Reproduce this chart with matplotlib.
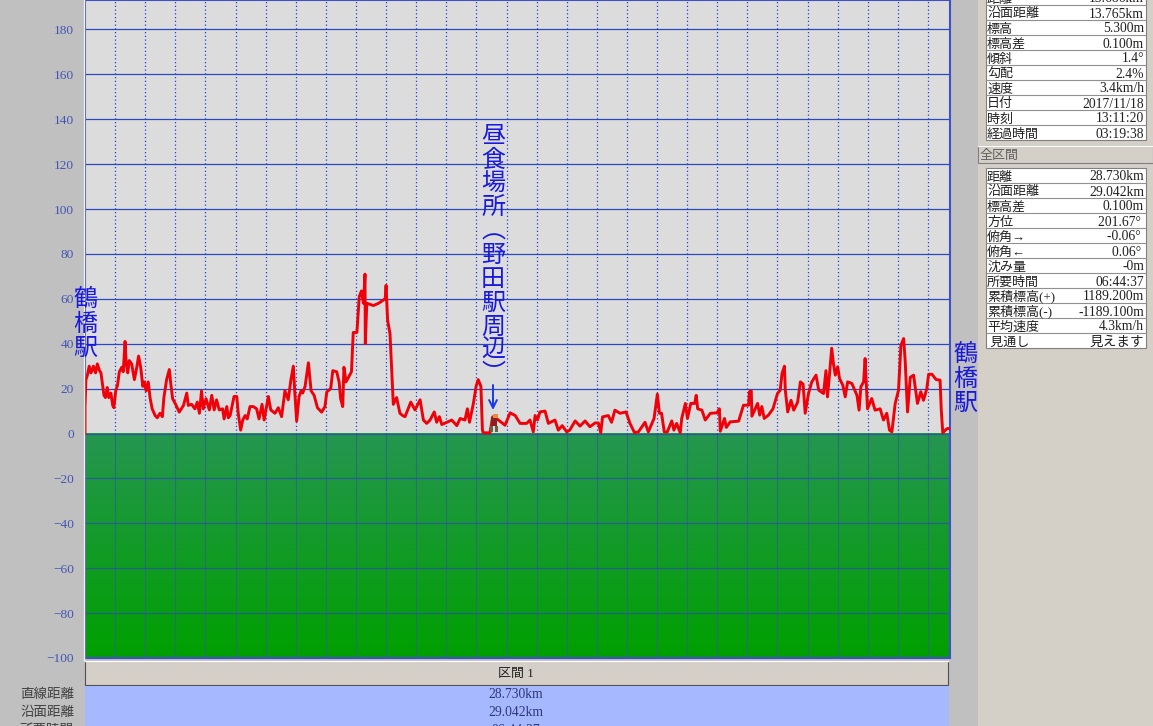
import numpy as np
import matplotlib
matplotlib.use('Agg')
import matplotlib.pyplot as plt
from matplotlib.colors import LinearSegmentedColormap
from matplotlib.patches import Rectangle

UI_FONT = ['Liberation Serif', 'Noto Sans CJK JP', 'DejaVu Sans']
CJK_FONT = ['Noto Sans CJK JP', 'DejaVu Sans']

# elevation profile
dist_km = [
    0, 0.0, 0.03, 0.08, 0.14, 0.2, 0.28, 0.35, 0.41, 0.48, 0.53, 0.59, 0.63, 0.68, 0.74, 0.79, 0.86, 0.92, 0.96,
    1.02, 1.08, 1.14, 1.22, 1.27, 1.33, 1.37, 1.42, 1.47, 1.55, 1.64, 1.72, 1.78, 1.85, 1.92, 1.97, 2.03, 2.1,
    2.16, 2.23, 2.33, 2.4, 2.49, 2.57, 2.62, 2.71, 2.8, 2.86, 2.91, 3.01, 3.13, 3.27, 3.38, 3.43, 3.54, 3.65,
    3.73, 3.8, 3.87, 3.93, 4.02, 4.13, 4.21, 4.29, 4.37, 4.46, 4.57, 4.62, 4.71, 4.76,
    4.82, 4.95, 5.04, 5.09, 5.17, 5.24, 5.32, 5.39, 5.48, 5.59, 5.7, 5.78, 5.88, 5.95, 6.09, 6.17, 6.31, 6.42,
    6.53, 6.64, 6.75, 6.84, 6.92, 6.97, 7.03, 7.11, 7.18, 7.23, 7.31, 7.42, 7.51, 7.61, 7.72, 7.86, 7.97, 8.03,
    8.16, 8.23, 8.36, 8.44, 8.49, 8.56, 8.6, 8.67, 8.85, 8.91, 9.03, 9.11, 9.18, 9.25, 9.3, 9.31, 9.36, 9.58,
    9.75, 9.97, 10.0, 10.05, 10.13, 10.2, 10.24, 10.35, 10.46, 10.55, 10.63, 10.82, 10.96, 11.13, 11.24, 11.35,
    11.46, 11.6, 11.68, 11.77, 11.85, 12.02, 12.18, 12.35, 12.46, 12.62, 12.7, 12.77, 12.9, 12.99, 13.06, 13.15,
    13.2, 13.23, 13.45, 13.54, 13.73, 13.95, 14.12, 14.29, 14.45, 14.67, 14.78, 14.89, 14.95, 15.03, 15.11, 15.28,
    15.39, 15.61, 15.72, 15.85, 16.0, 16.1, 16.28, 16.44, 16.61, 16.77, 16.94, 17.05, 17.13, 17.19, 17.38, 17.49,
    17.6, 17.77, 17.97, 18.1, 18.25, 18.38, 18.6, 18.71, 18.9, 19.01, 19.08, 19.15, 19.24, 19.34, 19.49, 19.56,
    19.65, 19.77, 19.82, 19.94, 20.01, 20.12, 20.25, 20.3, 20.35, 20.49, 20.6, 20.77, 20.99, 21.07, 21.1, 21.24,
    21.3, 21.43, 21.71, 21.87, 22.04, 22.07, 22.13, 22.15, 22.34, 22.41, 22.48, 22.56, 22.7, 22.85, 23.0, 23.09,
    23.15, 23.23, 23.26, 23.34, 23.45, 23.54, 23.67, 23.76, 23.85, 23.92, 24.03, 24.14, 24.28, 24.37, 24.53,
    24.61, 24.66, 24.73, 24.8, 24.86, 24.92, 25.0, 25.06, 25.17, 25.25, 25.33, 25.47, 25.64, 25.71, 25.77, 25.86,
    25.91, 25.99, 26.13, 26.24, 26.41, 26.52, 26.63, 26.72, 26.8, 26.91, 27.02, 27.1, 27.19, 27.24, 27.32, 27.41,
    27.52, 27.65, 27.76, 27.85, 27.96, 28.02, 28.13, 28.27, 28.4, 28.44, 28.49, 28.63, 28.71,
]
elev_m = [
    0, 12, 24, 26, 30, 27, 30, 27, 31, 28, 27, 21, 17, 16, 20.5, 16, 18, 12.5, 11.5,
    19, 21.5, 27.5, 29.5, 27.5, 41, 31, 27, 32.5, 31, 24, 29.5, 34.5, 29.5, 21, 23, 19, 23,
    16, 11, 8, 7, 9, 7.5, 16, 24, 28.5, 21, 15.5, 13, 9.5, 12.5, 18, 12.5, 13, 11,
    14, 9, 19, 11, 15.5, 10.5, 17, 10.5, 15, 10.5, 11, 6.5, 12, 7,
    8, 16.5, 16.5, 9, 1.5, 6, 8, 6.5, 12, 12, 11, 6.5, 13, 6, 16.5, 10.5, 9, 11.5,
    7.5, 19, 15, 24, 30, 18, 5.5, 16.5, 19, 18, 21, 31.5, 19, 17, 11.5, 9.5, 12, 18.5,
    20, 28, 27.5, 23, 15.5, 12, 29.5, 23, 27.5, 45, 45, 61, 63.5, 58, 71, 40, 58, 57,
    58, 60, 66, 50.5, 44.5, 25, 13, 16, 9, 8, 7.5, 14, 10.5, 15, 6, 4.5,
    6, 9.6, 5, 7.5, 4, 5, 6, 3.5, 6.7, 6, 11, 5, 13.4, 21, 24, 21,
    1.5, 0.3, 0.3, 7.4, 6, 3.7, 9.2, 8, 4.5, 4.5, 6, 0.7, 8, 6, 9.6, 10,
    4.5, 6, 1.5, 3.5, 0.7, 1.5, 5.6, 3.3, 5.6, 3, 4.7, 4.7, 0.3, 7.4, 8, 5,
    10.4, 9, 9.6, 4.5, 0.4, 0.7, 5, 0.7, 6.7, 17.5, 9, 9, 0.7, 0.7, 5.6, 1.5,
    4.5, 0.3, 6.7, 13.4, 6.7, 13.4, 13.4, 17, 11, 10.4, 6, 9, 9.2, 11, 1, 6.7,
    2.7, 5.2, 5.5, 12.6, 12.6, 18.6, 19, 7.7, 13.4, 8.2, 12, 6.7, 8.2, 11, 17.8, 19.3,
    26.7, 30, 19.3, 9.6, 14.8, 10.4, 14, 23, 22, 9, 17.8, 23, 26, 19.3, 17.8,
    28, 16.3, 26.7, 38, 31, 26, 29.7, 24.5, 21.5, 16.3, 23, 22.3, 17, 10.4, 20.8, 23,
    33.4, 11, 15.6, 10.4, 11, 6, 9, 1.5, 0.7, 13.4, 19.3, 39.3, 42.3, 32.7, 9.6, 25,
    26, 13.4, 18.6, 14.8, 20, 26.4, 26.4, 24, 23.8, 10.4, 0.3, 2.2, 2.2,
]
km_ticks = list(range(1, 29))
m_ticks = [-100, -80, -60, -40, -20, 0, 20, 40, 60, 80, 100, 120, 140, 160, 180]

upper_labels = ['距離', '沿面距離', '標高', '標高差', '傾斜', '勾配', '速度', '日付', '時刻', '経過時間']
upper_values = ['13.686km', '13.765km', '5.300m', '0.100m', '1.4°', '2.4%', '3.4km/h', '2017/11/18', '13:11:20', '03:19:38']
total_labels = ['距離', '沿面距離', '標高差', '方位', '俯角→', '俯角←', '沈み量', '所要時間', '累積標高(+)', '累積標高(-)', '平均速度', ' 見通し']
total_values = ['28.730km', '29.042km', '0.100m', '201.67° ', '-0.06° ', '0.06° ', '-0m', '06:44:37', '1189.200m', '-1189.100m', '4.3km/h', '見えます']
section_labels = ['直線距離', '沿面距離', '所要時間']
section_values = ['28.730km', '29.042km', '06:44:37']

W, H = 1153, 726
fig = plt.figure(figsize=(W / 100, H / 100), dpi=100, facecolor='#c0c0c0')

# main chart
ax = fig.add_axes([85 / W, 1 - 658 / H, 865 / W, 658 / H], facecolor='#dcdcdc')
green = LinearSegmentedColormap.from_list('ground', ['#259650', '#00a000'])
ax.imshow(np.linspace(0, 1, 128).reshape(-1, 1), cmap=green, aspect='auto', extent=(0, 28.73, -100, 0),
          origin='upper', zorder=1)
ax.set_xlim(0, 28.73)
ax.set_ylim(-100, 193.1)

for km in km_ticks:
    ax.plot([km, km], [0, 193.1], color='#2040d8', lw=0.9, ls=(0, (1, 2)), zorder=2)
    ax.plot([km, km], [-100, 0], color='#2a6a80', lw=0.8, alpha=0.85, zorder=2)
for m in m_ticks[1:]:
    if m > 0:
        ax.axhline(m, color='#2a48c0', lw=0.9, zorder=2)
    else:
        ax.axhline(m, color='#2a50a8', lw=0.9, alpha=0.8, zorder=2)

ax.plot(dist_km, elev_m, color='#f00008', lw=2.1, solid_joinstyle='round', zorder=3)

ax.set_xticks([])
ax.set_yticks(m_ticks)
ax.tick_params(axis='y', length=0, pad=8, labelcolor='#4454b4', labelsize=9.6)
for lab in ax.get_yticklabels():
    lab.set_family(UI_FONT)
for side in ax.spines.values():
    side.set_color('#4050c8')
    side.set_linewidth(1.5)

# window parts, drawn in pixel coordinates
ui = fig.add_axes([0, 0, 1, 1], facecolor='none', zorder=5)
ui.set_xlim(0, W)
ui.set_ylim(H, 0)
ui.axis('off')


def box(x0, y0, x1, y1, fc, ec='none', lw=0):
    ui.add_patch(Rectangle((x0, y0), x1 - x0, y1 - y0, facecolor=fc, edgecolor=ec, linewidth=lw))


def label(x, y, s, ha='left', color='#202020', size=9.4):
    # y is the baseline, so mixed kana and digits stay on one line
    ui.text(x, y, s, ha=ha, va='baseline', color=color, fontsize=size, family=UI_FONT)


ui.plot([83.5, 83.5], [0, 660], color='#f4f4e8', lw=1)

box(978, 0, W, H, '#d4d0c8')
box(978, 146, W, 163, '#d4d0c8', '#808080', 0.8)
ui.plot([978, W], [146, 146], color='#ffffff', lw=0.8)
label(980, 159, '全区間', color='#606060')


def table(top, labels, values):
    box(986, top, 1146, top + 15 * len(labels), '#ffffff', '#808080', 0.8)
    for i, (name, val) in enumerate(zip(labels, values)):
        y = top + 15 * i
        if i:
            ui.plot([986, 1146], [y, y], color='#909090', lw=0.8)
        label(987, y + 12.5, name)
        label(1144, y + 12.5, val, ha='right', size=9.8)


table(-10, upper_labels, upper_values)
table(168, total_labels, total_values)

# section table below the chart
box(85, 661, 948, 685, '#d4d0c8', '#505050', 0.8)
ui.plot([85, 948], [661, 661], color='#ffffff', lw=1)
label(516, 677, '区間 1', ha='center')
box(85, 686, 949, H + 2, '#a6b8ff')
for i, (name, val) in enumerate(zip(section_labels, section_values)):
    y = 698 + 18 * i
    label(74, y, name, ha='right', color='#404040', size=9.7)
    label(516, y, val, ha='center', color='#303878', size=9.8)

# hand written notes on the chart
note_kw = dict(ha='center', va='top', color='#1818e0', fontsize=17.3, family=CJK_FONT)
ui.text(85, 286, '鶴\n橋\n駅', linespacing=0.93, **note_kw)
ui.text(965, 341, '鶴\n橋\n駅', linespacing=0.93, **note_kw)
ui.text(493, 123, '昼\n食\n場\n所\n︵\n野\n田\n駅\n周\n辺\n︶', linespacing=0.89, **note_kw)
ui.annotate('', xy=(493, 410), xytext=(493, 385),
            arrowprops=dict(arrowstyle='->', color='#1838f0', lw=1.4, mutation_scale=14, shrinkA=0, shrinkB=0))

# walker icon at the cursor
box(491, 417, 497, 426, '#8a2020')
box(493, 414, 498, 418, '#e09040')
box(490, 426, 493, 432, '#6a6048')
box(495, 426, 498, 432, '#6a6048')

fig.savefig('out.png', dpi=100, facecolor=fig.get_facecolor())
